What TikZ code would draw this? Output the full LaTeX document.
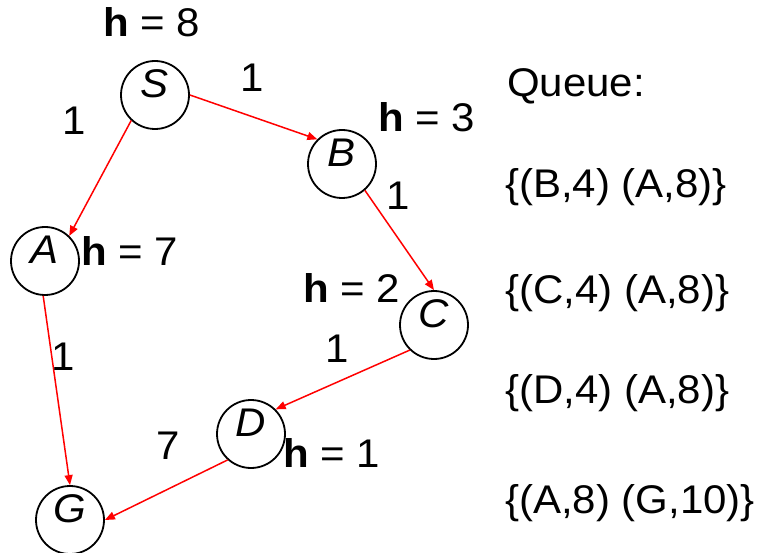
\documentclass[tikz,border=0pt]{standalone}
\usepackage{fontspec}
\setmainfont[FakeStretch=1.05]{Liberation Sans}
\usetikzlibrary{arrows.meta}

\newcommand{\slidefont}{\fontsize{40}{48}\selectfont}
\newcommand{\hb}{\textbf{h}}

\tikzset{
  state/.style={circle,draw,line width=1.8pt,minimum size=68pt,inner sep=0pt,
    text depth=22pt,font=\slidefont\itshape},
  hop/.style={red,line width=1.5pt,-{Triangle[length=10pt,width=8pt]}},
  heur/.style={anchor=base west,inner sep=0pt,font=\slidefont},
  cost/.style={anchor=base,inner sep=0pt,font=\slidefont},
  queue/.style={anchor=base west,inner sep=0pt,font=\slidefont}
}

\begin{document}
\begin{tikzpicture}[x=1pt,y=-1pt]
  \useasboundingbox (0,0) rectangle (763,553);

  % search graph
  \node[state] (S) at (155,95) {S};
  \node[state] (B) at (342,164) {B};
  \node[state] (A) at (45,261) {A};
  \node[state] (C) at (434,325) {C};
  \node[state] (D) at (251,434) {D};
  \node[state] (G) at (70,520) {G};

  \draw[hop] (S.east) -- (B.135);
  \draw[hop] (S.-133) -- (A.46);
  \draw[hop] (B.-49) -- (C.north);
  \draw[hop] (A.-93) -- (G.north);
  \draw[hop] (C.-134) -- (D.45);
  \draw[hop] (D.-132) -- (G.east);

  % edge costs
  \node[cost] (cSB) at (252,92) {1};
  \node[cost] (cSA) at (74,135) {1};
  \node[cost] (cBC) at (398,210) {1};
  \node[cost] (cAG) at (63,370) {1};
  \node[cost] (cCD) at (337,362) {1};
  \node[cost] (cDG) at (168,459) {7};

  % heuristic values
  \node[heur] (hS) at (103,37) {\hb{} = 8};
  \node[heur] (hB) at (378,132) {\hb{} = 3};
  \node[heur] (hA) at (81,266) {\hb{} = 7};
  \node[heur] (hC) at (303,303) {\hb{} = 2};
  \node[heur] (hD) at (283,467) {\hb{} = 1};

  % queue contents
  \node[queue] (q0) at (507,97) {Queue:};
  \node[queue] (q1) at (505,198) {\{(B,4) (A,8)\}};
  \node[queue] (q2) at (505,304) {\{(C,4) (A,8)\}};
  \node[queue] (q3) at (505,403) {\{(D,4) (A,8)\}};
  \node[queue] (q4) at (505,513) {\{(A,8) (G,10)\}};
\end{tikzpicture}
\end{document}
